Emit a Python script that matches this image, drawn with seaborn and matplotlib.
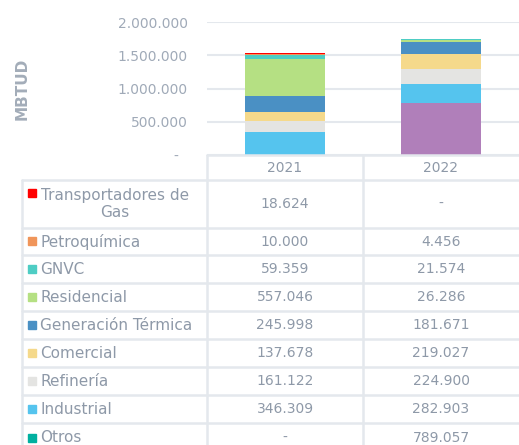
import numpy as np
import pandas as pd
import matplotlib
matplotlib.use('Agg')
import matplotlib.pyplot as plt
import seaborn as sns

# data (MBTUD)
years = ['2021', '2022']
sectors = ['Transportadores de Gas', 'Petroquímica', 'GNVC', 'Residencial',
           'Generación Térmica', 'Comercial', 'Refinería', 'Industrial', 'Otros']
v2021 = [18624, 10000, 59359, 557046, 245998, 137678, 161122, 346309, 0]
v2022 = [0, 4456, 21574, 26286, 181671, 219027, 224900, 282903, 789057]
bar_colors = ['#FF0000', '#F0955A', '#4ECDC4', '#B5E083', '#4A90C4',
              '#F5D98B', '#E4E4E2', '#55C4EE', '#B07FBA']
key_colors = ['#FF0000', '#F0955A', '#4ECDC4', '#B5E083', '#4A90C4',
              '#F5D98B', '#E4E4E2', '#55C4EE', '#00B0A0']
yticks = [0, 500000, 1000000, 1500000, 2000000]

W, H = 519, 445
txt_col = '#8E99A8'
line_col = '#E4E8ED'

df = pd.DataFrame({
    'year': np.repeat(years, len(sectors)),
    'sector': sectors * len(years),
    'value': v2021 + v2022,
})

sns.set_style('white')
plt.rcParams['font.family'] = ['DejaVu Sans']

fig = plt.figure(figsize=(W / 100, H / 100), dpi=100)


def px(x, y):
    return x / W, 1 - y / H


ax = fig.add_axes([207 / W, 1 - 155 / H, 312 / W, 133 / H])
sns.histplot(data=df, x='year', weights='value', hue='sector', hue_order=sectors,
             palette=dict(zip(sectors, bar_colors)), multiple='stack', discrete=True,
             shrink=0.51, alpha=1, linewidth=0, legend=False, ax=ax)
ax.set_xlim(-0.5, 1.5)
ax.set_ylim(0, 2000000)
ax.set_xticks([])
ax.set_yticks(yticks)
ax.set_yticklabels(['-  '] + [f'{t:,}'.replace(',', '.') for t in yticks[1:]])
ax.tick_params(axis='y', length=0, pad=14, labelsize=10, labelcolor='#A0AAB8')
ax.set_xlabel('')
ax.set_ylabel('')
for s in ax.spines.values():
    s.set_visible(False)
ax.yaxis.grid(True, color=line_col, linewidth=1.5)
ax.set_axisbelow(True)

fig.text(*px(22, 89), 'MBTUD', rotation=90, ha='center', va='center',
         fontsize=11, fontweight='bold', color='#A3ADB9')

# table below the chart
row_lines = [180, 228, 255, 283, 311, 339, 367, 395, 423]
lw = 1.8
fig.add_artist(plt.Line2D([207 / W, 1], [1 - 155 / H] * 2, color=line_col, lw=lw,
                          transform=fig.transFigure))
for y in row_lines:
    fig.add_artist(plt.Line2D([22 / W, 1], [1 - y / H] * 2, color=line_col, lw=lw,
                              transform=fig.transFigure))
fig.add_artist(plt.Line2D([22 / W] * 2, [1 - 180 / H, 0], color=line_col, lw=lw,
                          transform=fig.transFigure))
for x in [207, 363]:
    fig.add_artist(plt.Line2D([x / W] * 2, [1 - 155 / H, 0], color=line_col, lw=lw,
                              transform=fig.transFigure))

col_x = [285, 441]
for cx, yr in zip(col_x, years):
    fig.text(*px(cx, 168), yr, ha='center', va='center', fontsize=10, color=txt_col)

tops = [180] + row_lines[1:]
bots = row_lines[1:] + [452]
for i, name in enumerate(sectors):
    yc = (tops[i] + bots[i]) / 2
    if i == 0:
        fig.text(*px(115, yc), 'Transportadores de\nGas', ha='center', va='center',
                 multialignment='center', fontsize=11, color=txt_col, linespacing=1.15)
        sy = 193
    else:
        fig.text(*px(40, yc), name, ha='left', va='center', fontsize=11, color=txt_col)
        sy = yc
    fig.patches.append(plt.Rectangle(px(28, sy + 4), 8 / W, 8 / H, color=key_colors[i],
                                     transform=fig.transFigure, figure=fig))
    for cx, vals in zip(col_x, [v2021, v2022]):
        v = vals[i]
        s = f'{v:,}'.replace(',', '.') if v else '-'
        fig.text(*px(cx, yc), s, ha='center', va='center', fontsize=10, color=txt_col)

fig.savefig('out.png', dpi=100)
